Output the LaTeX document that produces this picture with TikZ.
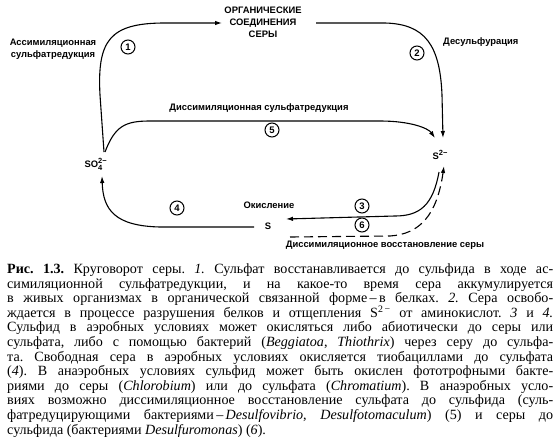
\documentclass[tikz,border=0pt]{standalone}
\usepackage{fontspec}
\setmainfont{Liberation Serif}
\newfontfamily\labfont{Liberation Sans}
\usetikzlibrary{arrows.meta}
\frenchspacing
\begin{document}
\begin{tikzpicture}[x=1pt,y=-1pt,
  lab/.style={font=\labfont\bfseries\fontsize{9.4}{12}\selectfont, inner sep=0pt, align=center},
  numc/.style={circle, draw, line width=1pt, minimum size=14pt, inner sep=0pt, font=\labfont\bfseries\fontsize{9.5}{10}\selectfont},
  arr/.style={line width=1.1pt, -{Latex[length=7pt,width=4.5pt]}},
  darr/.style={line width=1.1pt, dash pattern=on 9pt off 5pt, -{Latex[length=7pt,width=4.5pt]}},
  capline/.style={anchor=base west, inner sep=0pt, text height=9.5pt, text depth=3pt, font=\fontsize{14.1}{14}\selectfont}]
\useasboundingbox (0,0) rectangle (560,442);
\fill[white] (0,0) rectangle (560,442);

% main nodes
\node[lab] (org) at (263,22) {ОРГАНИЧЕСКИЕ\\СОЕДИНЕНИЯ\\СЕРЫ};
\node[lab, anchor=base] (so4) at (96,167) {SO\rlap{\raisebox{4pt}{\fontsize{7.5}{7.5}\selectfont 2−}}\raisebox{-3.5pt}{\fontsize{7.5}{7.5}\selectfont 4}\hspace{5pt}};
\node[lab, anchor=base] (s2) at (440,159) {S\raisebox{3.5pt}{\fontsize{7.5}{7.5}\selectfont 2−}};
\node[lab, anchor=base] (s) at (268,229) {S};

% process labels
\node[lab, align=center] (l1) at (53,49) {Ассимиляционная\\сульфатредукция};
\node[lab, anchor=west] (l2) at (443,42) {Десульфурация};
\node[lab] (l5) at (259,108) {Диссимиляционная сульфатредукция};
\node[lab] (l34) at (269,205) {Окисление};
\node[lab] (l6) at (385,245) {Диссимиляционное восстановление серы};

% connector end points
\coordinate (a1s) at (104,152);
\coordinate (a1e) at (222,23);
\coordinate (a2s) at (316,23);
\coordinate (a2e) at (443,138);
\coordinate (a5s) at (105,152);
\coordinate (a5e) at (435,138);
\coordinate (a4s) at (254,227);
\coordinate (a4e) at (102,176);
\coordinate (a3s) at (439,172);
\coordinate (a3e) at (286,219);
\coordinate (a6s) at (290,237);
\coordinate (a6e) at (444,166);

% 1
\draw[arr] (a1s) -- (100,95) .. controls (97,40) and (110,23) .. (165,23) -- (a1e);
% 2
\draw[arr] (a2s) -- (385,23) .. controls (425,24) and (440,45) .. (442,95) -- (a2e);
% 5
\draw[arr] (a5s) .. controls (115,126) and (125,121) .. (150,121) -- (380,121) .. controls (410,121) and (428,128) .. (a5e);
% 4
\draw[arr] (a4s) -- (160,227) .. controls (115,226) and (103,210) .. (a4e);
% 3
\draw[arr] (a3s) .. controls (433,205) and (420,216) .. (395,216) -- (a3e);
% 6
\draw[darr] (a6s) -- (390,236) .. controls (420,234) and (437,215) .. (a6e);

% numbers
\node[numc] (n1) at (128,47) {1};
\node[numc] (n2) at (417,53) {2};
\node[numc] (n5) at (272,130) {5};
\node[numc] (n4) at (177,208) {4};
\node[numc, fill=white] (n3) at (362,206) {3};
\node[numc, fill=white] (n6) at (362,225) {6};

% caption
\node[capline] (c1) at (7,273.5) {\makebox[546pt][s]{\textbf{Рис. 1.3.} Круговорот серы. \textit{1.} Сульфат восстанавливается до сульфида в ходе ас-}};
\node[capline] (c2) at (7,288.1) {\makebox[546pt][s]{симиляционной сульфатредукции, и на какое-то время сера аккумулируется}};
\node[capline] (c3) at (7,302.7) {\makebox[546pt][s]{в живых организмах в органической связанной форме\,–\,в белках. \textit{2.} Сера освобо-}};
\node[capline] (c4) at (7,317.3) {\makebox[546pt][s]{ждается в процессе разрушения белков и отщепления S\textsuperscript{2\,−} от аминокислот. \textit{3} и \textit{4.}}};
\node[capline] (c5) at (7,331.9) {\makebox[546pt][s]{Сульфид в аэробных условиях может окисляться либо абиотически до серы или}};
\node[capline] (c6) at (7,346.5) {\makebox[546pt][s]{сульфата, либо с помощью бактерий (\textit{Beggiatoa}, \textit{Thiothrix}) через серу до сульфа-}};
\node[capline] (c7) at (7,361.1) {\makebox[546pt][s]{та. Свободная сера в аэробных условиях окисляется тиобациллами до сульфата}};
\node[capline] (c8) at (7,375.7) {\makebox[546pt][s]{(\textit{4}). В анаэробных условиях сульфид может быть окислен фототрофными бакте-}};
\node[capline] (c9) at (7,390.3) {\makebox[546pt][s]{риями до серы (\textit{Chlorobium}) или до сульфата (\textit{Chromatium}). В анаэробных усло-}};
\node[capline] (c10) at (7,404.9) {\makebox[546pt][s]{виях возможно диссимиляционное восстановление сульфата до сульфида (суль-}};
\node[capline] (c11) at (7,419.5) {\makebox[546pt][s]{фатредуцирующими бактериями\,–\,\textit{Desulfovibrio}, \textit{Desulfotomaculum}) (5) и серы до}};
\node[capline] (c12) at (7,434.1) {сульфида (бактериями \textit{Desulfuromonas}) (\textit{6}).};
\end{tikzpicture}
\end{document}
